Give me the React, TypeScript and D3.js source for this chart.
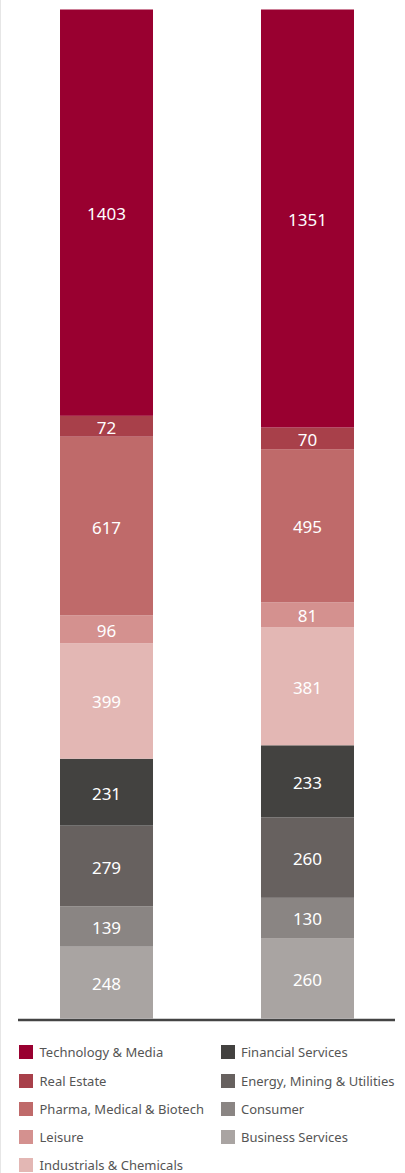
import React from "react";
import * as d3 from "d3";

const categories = ["Year 1", "Year 2"];
const sectors = [
  "Technology & Media",
  "Real Estate",
  "Pharma, Medical & Biotech",
  "Leisure",
  "Industrials & Chemicals",
  "Financial Services",
  "Energy, Mining & Utilities",
  "Consumer",
  "Business Services",
];
const valuesA = [1403, 72, 617, 96, 399, 231, 279, 139, 248];
const valuesB = [1351, 70, 495, 81, 381, 233, 260, 130, 260];
const colors = [
  "#990030",
  "#A8404A",
  "#BF6A6A",
  "#D4918F",
  "#E3B7B4",
  "#434240",
  "#67615F",
  "#8A8583",
  "#A9A4A2",
];

export default function App() {
  const W = 405;
  const H = 1173;
  const keys = sectors.slice().reverse();
  const rows = categories.map((c, i) => {
    const o: any = { cat: c };
    sectors.forEach((s, j) => {
      o[s] = (i === 0 ? valuesA : valuesB)[j];
    });
    return o;
  });
  const stack = d3.stack<any>().keys(keys).offset(d3.stackOffsetExpand);
  const series = stack(rows);
  const x = d3.scaleBand().domain(categories).range([6, 408]).paddingInner(0.5373).paddingOuter(0.2687);
  const y = d3.scaleLinear().domain([0, 1]).range([1018.5, 9.5]);
  const colorOf = (k: string) => colors[sectors.indexOf(k)];
  const font = "'Noto Sans', 'Open Sans', sans-serif";

  const legendLeft = sectors.slice(0, 5);
  const legendRight = sectors.slice(5);
  const rowY = [1052, 1081, 1109, 1137, 1165];

  return (
    <div style={{ position: "absolute", left: 0, top: 0 }}>
      <svg width={W} height={H} style={{ display: "block" }}>
        <rect x={0} y={0} width={W} height={H} fill="#fff" />
        <line x1={0.5} y1={0} x2={0.5} y2={H} stroke="#e6e6e6" strokeWidth={1} />
        {series.map((s) => (
          <g key={s.key} fill={colorOf(s.key)}>
            {s.map((d, i) => (
              <rect
                key={i}
                x={x(d.data.cat)}
                y={y(d[1])}
                width={x.bandwidth()}
                height={y(d[0]) - y(d[1])}
              />
            ))}
          </g>
        ))}
        {series.map((s) => (
          <g key={"l" + s.key}>
            {s.map((d, i) => (
              <text
                key={i}
                x={(x(d.data.cat) as number) + x.bandwidth() / 2}
                y={(y(d[0]) + y(d[1])) / 2 + 1}
                textAnchor="middle"
                dominantBaseline="central"
                fill="#fff"
                fontFamily={font}
                fontSize={17}
              >
                {d.data[s.key]}
              </text>
            ))}
          </g>
        ))}
        <line x1={18} x2={395} y1={1020} y2={1020} stroke="#444" strokeWidth={2.5} />
        {legendLeft.map((s, i) => (
          <g key={s}>
            <rect x={19} y={rowY[i] - 7} width={14} height={14} fill={colorOf(s)} />
            <text x={39.5} y={rowY[i]} dominantBaseline="central" fontFamily={font} fontSize={13} fill="#555">
              {s}
            </text>
          </g>
        ))}
        {legendRight.map((s, i) => (
          <g key={s}>
            <rect x={221} y={rowY[i] - 7} width={14} height={14} fill={colorOf(s)} />
            <text x={241} y={rowY[i]} dominantBaseline="central" fontFamily={font} fontSize={13} fill="#555">
              {s}
            </text>
          </g>
        ))}
      </svg>
    </div>
  );
}
